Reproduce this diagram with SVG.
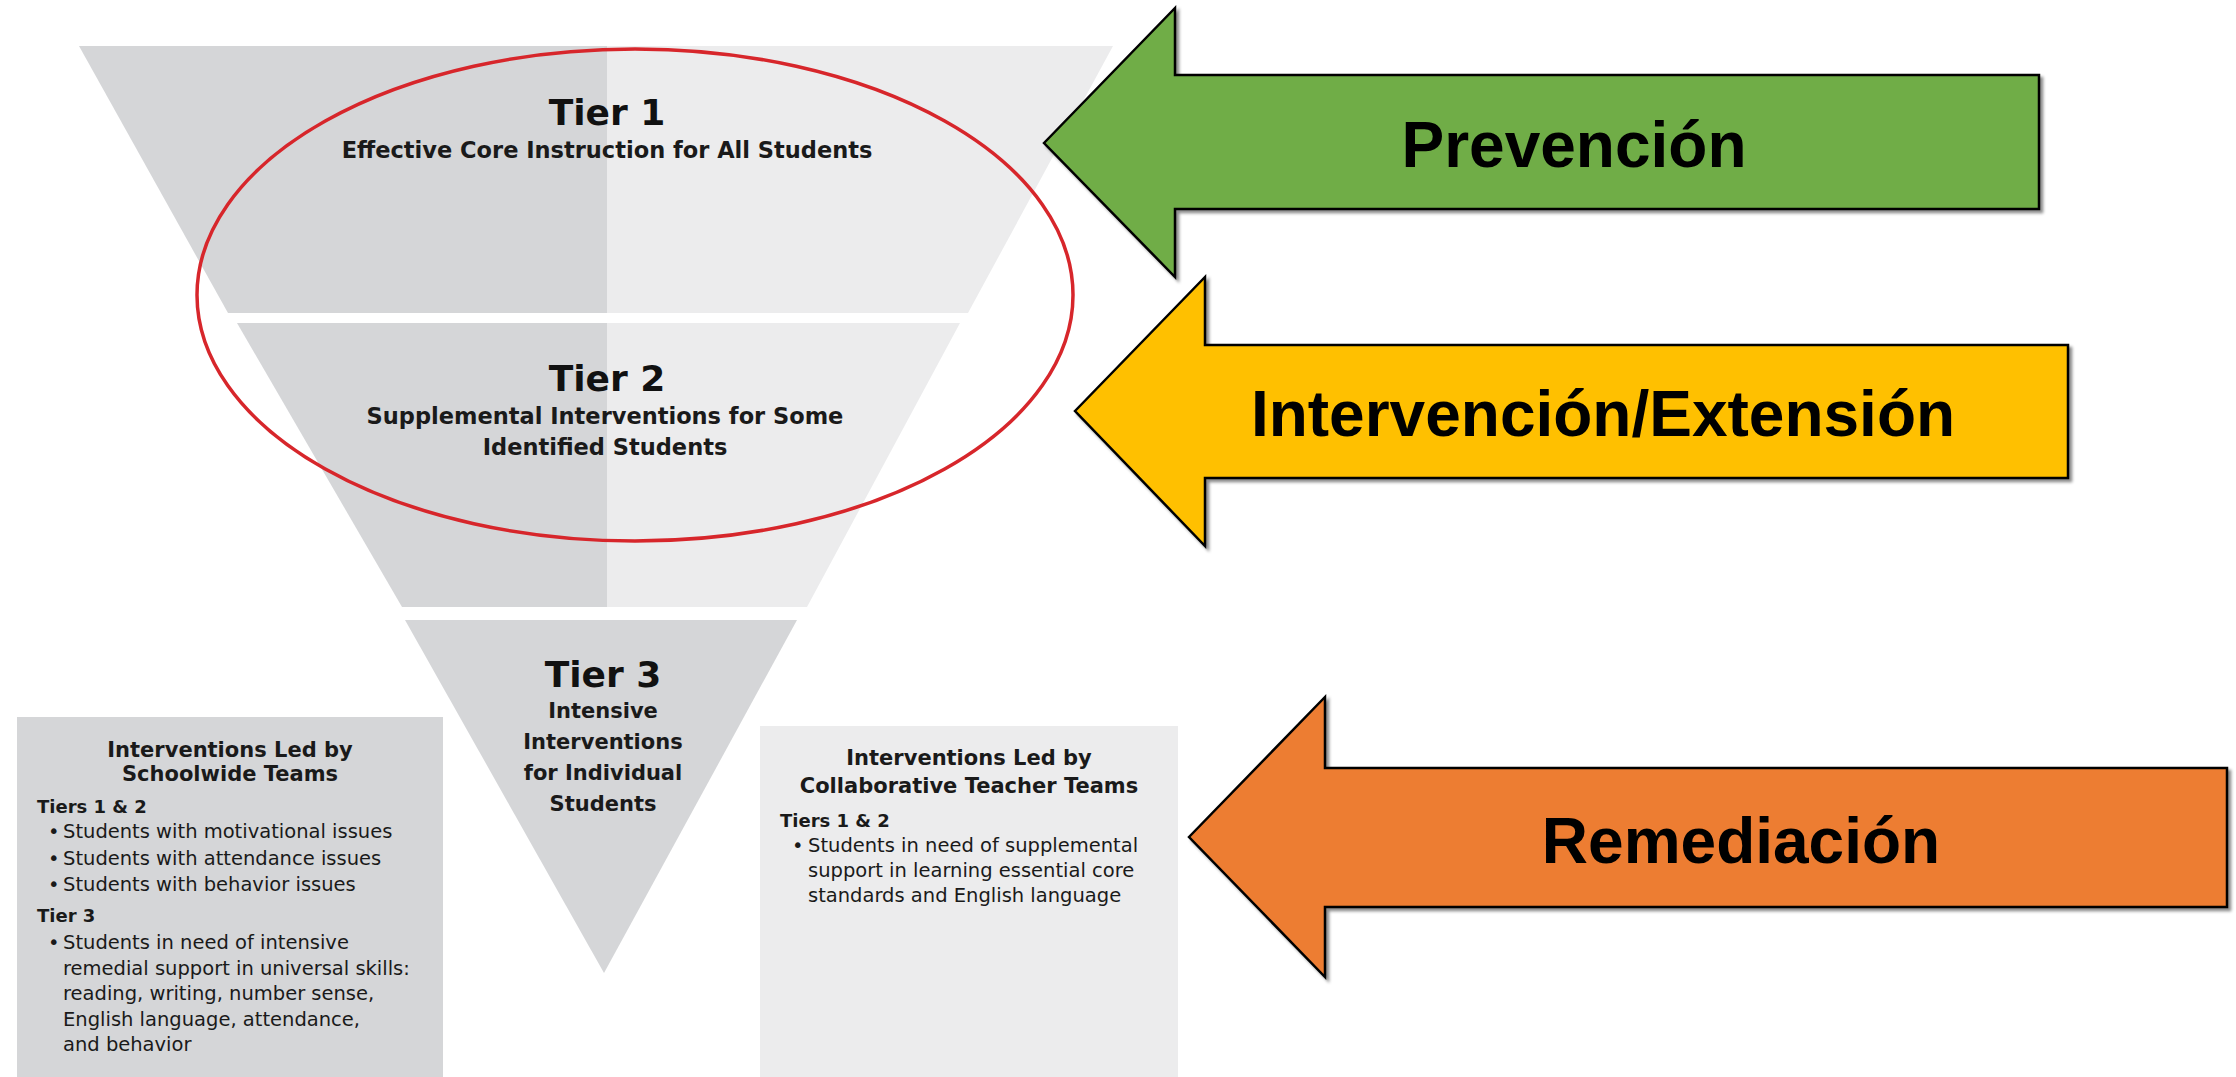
<svg xmlns="http://www.w3.org/2000/svg" width="2236" height="1077" viewBox="0 0 2236 1077">
  <defs>
    <filter id="shadow" x="-5%" y="-5%" width="115%" height="120%">
      <feDropShadow dx="3" dy="3" stdDeviation="1.5" flood-color="#000" flood-opacity="0.45"/>
    </filter>
    <style>
      .dark { fill: #d5d6d8; }
      .light { fill: #ececed; }
      .tierh { font-family: "DejaVu Sans", sans-serif; font-weight: bold; font-size: 36px; fill: #111; text-anchor: middle; }
      .tiers { font-family: "DejaVu Sans", sans-serif; font-weight: bold; font-size: 22.5px; fill: #1a1a1a; text-anchor: middle; }
      .t3s { font-family: "DejaVu Sans", sans-serif; font-weight: bold; font-size: 21px; fill: #1a1a1a; text-anchor: middle; }
      .boxh { font-family: "DejaVu Sans", sans-serif; font-weight: bold; font-size: 21px; fill: #1a1a1a; text-anchor: middle; }
      .sub { font-family: "DejaVu Sans", sans-serif; font-weight: bold; font-size: 18px; fill: #1a1a1a; }
      .body { font-family: "DejaVu Sans", sans-serif; font-size: 19.5px; fill: #1a1a1a; }
      .arrow { stroke: #000; stroke-width: 2.5; stroke-linejoin: miter; filter: url(#shadow); }
      .alabel { font-family: "Liberation Sans", Arial, sans-serif; font-weight: bold; font-size: 64px; fill: #000; text-anchor: middle; }
    </style>
  </defs>
  <rect width="2236" height="1077" fill="#ffffff"/>

  <g id="tier1">
    <polygon class="dark" points="79,46 607,46 607,313 228,313"/>
    <polygon class="light" points="607,46 1113,46 968,313 607,313"/>
    <text class="tierh" x="607" y="125">Tier 1</text>
    <text class="tiers" x="607" y="158">Effective Core Instruction for All Students</text>
  </g>

  <g id="tier2">
    <polygon class="dark" points="237,323 607,323 607,607 402,607"/>
    <polygon class="light" points="607,323 960,323 807,607 607,607"/>
    <text class="tierh" x="607" y="391">Tier 2</text>
    <text class="tiers" x="605" y="424">Supplemental Interventions for Some</text>
    <text class="tiers" x="605" y="455">Identified Students</text>
  </g>

  <g id="tier3">
    <polygon class="dark" points="405,620 797,620 604,973"/>
    <text class="tierh" x="603" y="687">Tier 3</text>
    <text class="t3s" x="603" y="718">Intensive</text>
    <text class="t3s" x="603" y="749">Interventions</text>
    <text class="t3s" x="603" y="780">for Individual</text>
    <text class="t3s" x="603" y="811">Students</text>
  </g>

  <g id="highlight-ellipse">
    <ellipse cx="635" cy="295" rx="438" ry="246" fill="none" stroke="#d7262b" stroke-width="3.5"/>
  </g>

  <g id="box-schoolwide">
    <rect class="dark" x="17" y="717" width="426" height="370"/>
    <text class="boxh" x="230" y="757">Interventions Led by</text>
    <text class="boxh" x="230" y="781">Schoolwide Teams</text>
    <text class="sub" x="37" y="813">Tiers 1 &amp; 2</text>
    <text class="body" x="48" y="838">•</text>
    <text class="body" x="63" y="838">Students with motivational issues</text>
    <text class="body" x="48" y="865">•</text>
    <text class="body" x="63" y="865">Students with attendance issues</text>
    <text class="body" x="48" y="891">•</text>
    <text class="body" x="63" y="891">Students with behavior issues</text>
    <text class="sub" x="37" y="922">Tier 3</text>
    <text class="body" x="48" y="949">•</text>
    <text class="body" x="63" y="949">Students in need of intensive</text>
    <text class="body" x="63" y="975">remedial support in universal skills:</text>
    <text class="body" x="63" y="1000">reading, writing, number sense,</text>
    <text class="body" x="63" y="1026">English language, attendance,</text>
    <text class="body" x="63" y="1051">and behavior</text>
  </g>

  <g id="box-collaborative">
    <rect class="light" x="760" y="726" width="418" height="361"/>
    <text class="boxh" x="969" y="765">Interventions Led by</text>
    <text class="boxh" x="969" y="793">Collaborative Teacher Teams</text>
    <text class="sub" x="780" y="827">Tiers 1 &amp; 2</text>
    <text class="body" x="792" y="852">•</text>
    <text class="body" x="808" y="852">Students in need of supplemental</text>
    <text class="body" x="808" y="877">support in learning essential core</text>
    <text class="body" x="808" y="902">standards and English language</text>
  </g>

  <g id="arrow-prevencion">
    <polygon class="arrow" fill="#70ad47" points="1044,143 1175,8 1175,75 2039,75 2039,209 1175,209 1175,277"/>
    <text class="alabel" x="1574" y="167">Prevención</text>
  </g>

  <g id="arrow-intervencion">
    <polygon class="arrow" fill="#ffc000" points="1075,411 1205,277 1205,345 2068,345 2068,478 1205,478 1205,546"/>
    <text class="alabel" x="1603" y="436">Intervención/Extensión</text>
  </g>

  <g id="arrow-remediacion">
    <polygon class="arrow" fill="#ed7d31" points="1189,837 1325,697 1325,768 2227,768 2227,907 1325,907 1325,977"/>
    <text class="alabel" x="1741" y="863">Remediación</text>
  </g>

  <g id="connectors"/>
</svg>
